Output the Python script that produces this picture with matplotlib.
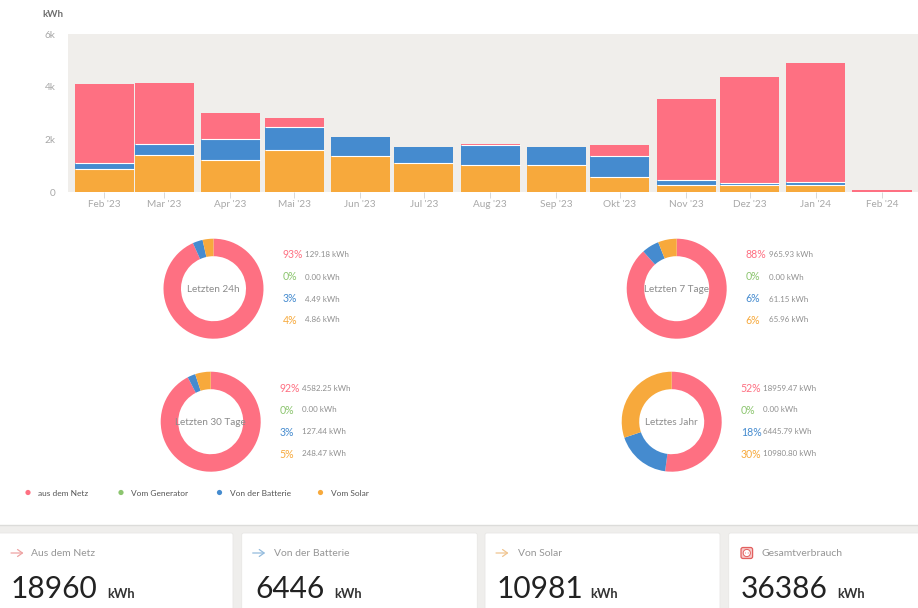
from datetime import datetime, timedelta

import matplotlib

matplotlib.use("Agg")
import matplotlib.dates as mdates
import matplotlib.pyplot as plt
from matplotlib.patches import Circle, FancyBboxPatch, Rectangle

plt.rcParams["font.family"] = ["Lato", "DejaVu Sans"]

# monthly consumption, kWh
month_starts = [
    "2023-02-01", "2023-03-01", "2023-04-01", "2023-05-01", "2023-06-01",
    "2023-07-01", "2023-08-01", "2023-09-01", "2023-10-01", "2023-11-01",
    "2023-12-01", "2024-01-01", "2024-02-01",
]
month_labels = [
    "Feb '23", "Mar '23", "Apr '23", "Mai '23", "Jun '23", "Jul '23", "Aug '23",
    "Sep '23", "Okt '23", "Nov '23", "Dez '23", "Jan '24", "Feb '24",
]
solar = [873, 1392, 1203, 1582, 1354, 1101, 1038, 1038, 557, 266, 253, 253, 0]
battery = [216, 418, 822, 874, 747, 621, 734, 684, 823, 190, 80, 114, 0]
grid = [3012, 2317, 962, 341, 0, 0, 51, 0, 417, 3076, 4047, 4519, 76]
y_ticks = [0, 2000, 4000, 6000]
y_tick_labels = ["0", "2k", "4k", "6k"]

# donuts: grid, generator, battery, solar
donut_titles = ["Letzten 24h", "Letzten 7 Tage", "Letzten 30 Tage", "Letztes Jahr"]
donut_values = [
    [129.18, 0.00, 4.49, 4.86],
    [965.93, 0.00, 61.15, 65.96],
    [4582.25, 0.00, 127.44, 248.47],
    [18959.47, 0.00, 6445.79, 10980.80],
]
donut_percents = [
    ["93%", "0%", "3%", "4%"],
    ["88%", "0%", "6%", "6%"],
    ["92%", "0%", "3%", "5%"],
    ["52%", "0%", "18%", "30%"],
]

legend_labels = ["aus dem Netz", "Vom Generator", "Von der Batterie", "Vom Solar"]
card_titles = ["Aus dem Netz", "Von der Batterie", "Von Solar", "Gesamtverbrauch"]
card_totals = ["18960", "6446", "10981", "36386"]

RED = "#fe7082"
GREEN = "#8cc56f"
BLUE = "#458bcf"
ORANGE = "#f7a93c"
SERIES_COLORS = [RED, GREEN, BLUE, ORANGE]
ARROW_COLORS = ["#eea3a3", "#93bbdd", "#f0c590"]

W, H = 918, 608
BAR_DAYS = 27.7


def add_axes_px(fig, left, top, right, bottom):
    """Axes placed by pixel edges of the picture."""
    return fig.add_axes([left / W, 1 - bottom / H, (right - left) / W, (bottom - top) / H])


def draw_separators(ax, x, levels, values):
    # white hairline under each segment that actually has a height
    for xi, level, v in zip(x, levels, values):
        if v > 0 and level > 0:
            ax.hlines(level, xi - BAR_DAYS / 2, xi + BAR_DAYS / 2, color="white", linewidth=0.8)


fig = plt.figure(figsize=(W / 100, H / 100), dpi=100, facecolor="white")

# page layer in pixel coordinates
page = fig.add_axes([0, 0, 1, 1])
page.set_xlim(0, W)
page.set_ylim(H, 0)
page.axis("off")

# bar chart
ax = add_axes_px(fig, 68, 34, 918, 192)
ax.set_facecolor("#f0eeeb")
dates = [datetime.strptime(d, "%Y-%m-%d") for d in month_starts]
x = mdates.date2num(dates)
bottom_grid = [s + b for s, b in zip(solar, battery)]
ax.bar(x, solar, width=BAR_DAYS, color=ORANGE, linewidth=0)
ax.bar(x, battery, bottom=solar, width=BAR_DAYS, color=BLUE, linewidth=0)
ax.bar(x, grid, bottom=bottom_grid, width=BAR_DAYS, color=RED, linewidth=0)
draw_separators(ax, x, solar, battery)
draw_separators(ax, x, bottom_grid, grid)
ax.set_xlim(
    mdates.date2num(dates[0] - timedelta(days=17.1)),
    mdates.date2num(dates[-1] + timedelta(days=16.9)),
)
ax.set_ylim(0, 6000)
ax.set_xticks(x)
ax.set_xticklabels(month_labels, fontsize=7.2, color="#a8a8a8")
ax.set_yticks(y_ticks)
ax.set_yticklabels(y_tick_labels, fontsize=7.2, color="#a8a8a8")
ax.tick_params(axis="x", length=4, width=0.7, color="#d8d8d8", pad=2)
ax.tick_params(axis="y", length=0, pad=9)
for spine in ax.spines.values():
    spine.set_visible(False)
page.text(42, 14.5, "kWh", fontsize=7, fontweight="bold", color="#6e6e6e", va="center")

# donuts
donut_centers = [(213.5, 288.7), (676.7, 288.7), (210.7, 421.7), (671.7, 421.7)]
pct_x = [282.7, 745.7, 279.3, 740.7]
amount_x = [305, 768.7, 302, 763]
row_y = [[254.7, 277, 299, 320], [254.7, 277, 299, 320], [388.7, 410, 432, 454], [388.7, 410, 432, 454]]
for i, title in enumerate(donut_titles):
    cx, cy = donut_centers[i]
    dax = add_axes_px(fig, cx - 50, cy - 50, cx + 50, cy + 50)
    dax.pie(
        donut_values[i],
        colors=SERIES_COLORS,
        startangle=90,
        counterclock=False,
        radius=1,
        wedgeprops={"width": 0.35, "linewidth": 0},
    )
    dax.set_xlim(-1, 1)
    dax.set_ylim(-1, 1)
    dax.text(0, -0.02, title, ha="center", va="center", fontsize=7.2, color="#8c8c8c")
    for j in range(4):
        page.text(pct_x[i], row_y[i][j], donut_percents[i][j], fontsize=7.6,
                  color=SERIES_COLORS[j], va="center")
        page.text(amount_x[i], row_y[i][j], f"{donut_values[i][j]:.2f} kWh", fontsize=5.8,
                  color="#8f8f8f", va="center")

# legend
legend_dot_x = [28, 121, 219.5, 320.5]
legend_text_x = [38, 131, 229.5, 331]
for j, label in enumerate(legend_labels):
    page.add_patch(Circle((legend_dot_x[j], 492.5), 2.6, color=SERIES_COLORS[j], lw=0))
    page.text(legend_text_x[j], 493, label, fontsize=6, color="#555555", va="center")

# cards
page.add_patch(Rectangle((0, 525), W, H - 525, facecolor="#efeeec", edgecolor="none"))
page.plot([0, W], [525, 525], color="#dcdcda", lw=1)
card_edges = [(-6, 233), (241.7, 477.3), (485, 720), (728.7, 930)]
title_x = [31, 274.3, 517.7, 761]
total_x = [11, 255, 497, 741]
unit_x = [107, 334.5, 590, 837]
for k, (left, right) in enumerate(card_edges):
    page.add_patch(FancyBboxPatch((left, 533), right - left, 90,
                                  boxstyle="round,pad=0,rounding_size=2",
                                  facecolor="white", edgecolor="#e8e7e5", lw=0.6))
    page.text(title_x[k], 553.5, card_titles[k], fontsize=7.5, color="#969696", va="center")
    page.text(total_x[k], 598, card_totals[k], fontsize=21.5, color="#222222", va="baseline")
    page.text(unit_x[k], 598, "kWh", fontsize=9.3, fontweight="bold", color="#333333", va="baseline")
    if k < 3:
        arrow_x = left + 11 if k else 11
        page.annotate("", xy=(arrow_x + 12.5, 553), xytext=(arrow_x, 553),
                      arrowprops={"arrowstyle": "->,head_length=0.35,head_width=0.25",
                                  "color": ARROW_COLORS[k], "lw": 0.9, "shrinkA": 0, "shrinkB": 0})

# socket icon on the last card
page.add_patch(FancyBboxPatch((741, 547.5), 11.6, 11, boxstyle="round,pad=0,rounding_size=2",
                              facecolor="#f7c9c9", edgecolor="#e2605f", lw=0.9))
page.add_patch(Circle((746.8, 553), 3.6, facecolor="white", edgecolor="#e2605f", lw=0.7))
page.add_patch(Circle((745.4, 553), 0.5, color="#e2605f", lw=0))
page.add_patch(Circle((748.2, 553), 0.5, color="#e2605f", lw=0))

fig.savefig("out.png", dpi=100)
plt.close(fig)
